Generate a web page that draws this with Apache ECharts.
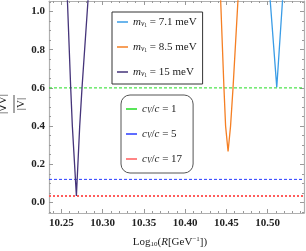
<!DOCTYPE html>
<html><head><meta charset="utf-8">
<script src="https://cdn.jsdelivr.net/npm/echarts@6/dist/echarts.min.js"></script>
<style>html,body{margin:0;padding:0;background:#fff}#c{width:306px;height:251px}</style>
</head><body><div id="c"></div>
<script>
// ---- data ----
const massLabels = ['7.1', '8.5', '15'];
const curveColors = ['#3a9ce6', '#f57f23', '#45347a'];
const xBlue   = [10.503, 10.511, 10.518];
const yBlue   = [1.06, 0.603, 1.06];
const xOrange = [10.443, 10.447, 10.449, 10.452, 10.455, 10.458, 10.464];
const yOrange = [1.06, 0.60, 0.40, 0.267, 0.40, 0.60, 1.06];
const xPurple = [10.2573, 10.2613, 10.2633, 10.2682, 10.2722, 10.275, 10.2823];
const yPurple = [1.06, 0.60, 0.40, 0.034, 0.40, 0.60, 1.06];

const cvLabels = ['1', '5', '17'];
const hLineValues = [0.6, 0.121, 0.034];
const hLineColors = ['#22dd22', '#2a3cff', '#ff5c5c'];

const xMin = 10.235, xMax = 10.544;
const yMin = -0.055, yMax = 1.055;
const xMajor = [10.25, 10.30, 10.35, 10.40, 10.45, 10.50];
const xMinor = [10.24,10.26,10.27,10.28,10.29,10.31,10.32,10.33,10.34,10.36,10.37,10.38,10.39,10.41,10.42,10.43,10.44,10.46,10.47,10.48,10.49,10.51,10.52,10.53,10.54];
const yMajor = [0.0, 0.2, 0.4, 0.6, 0.8, 1.0];
const yMinor = [-0.05,0.05,0.1,0.15,0.25,0.3,0.35,0.45,0.5,0.55,0.65,0.7,0.75,0.85,0.9,0.95,1.05];

// ---- build ----
const zip = (a, b) => a.map((v, i) => [v, b[i]]);
const curves = [[xBlue, yBlue], [xOrange, yOrange], [xPurple, yPurple]];
const serif = 'Liberation Serif, DejaVu Serif, serif';
const frame = '#b0b0b0';

const series = [];
curves.forEach((c, i) => {
  series.push({
    name: 'm' + i, type: 'line', data: zip(c[0], c[1]), symbol: 'none',
    lineStyle: { color: curveColors[i], width: 1.3 }, itemStyle: { color: curveColors[i] },
    z: 5, animation: false
  });
});
const dashes = [[3, 2], [3, 2], [2, 2]];
const widths = [1, 1, 2];
hLineValues.forEach((v, i) => {
  series.push({
    name: 'c' + i, type: 'line', data: [[xMin, v], [xMax, v]], symbol: 'none',
    lineStyle: { color: hLineColors[i], width: widths[i], type: dashes[i] }, itemStyle: { color: hLineColors[i] },
    z: 3, animation: false
  });
});

const rich = {
  i: { fontFamily: serif, fontStyle: 'italic', fontSize: 11, color: '#222' },
  s: { fontFamily: serif, fontStyle: 'italic', fontSize: 7.5, color: '#222', padding: [5, 0, 0, 0] },
  ss: { fontFamily: serif, fontSize: 5.5, color: '#222', padding: [8, 0, 0, 0] },
  t: { fontFamily: serif, fontSize: 11, color: '#222' }
};

function xAxisDef(pos, ticks, len, labels, line) {
  return {
    type: 'value', min: xMin, max: xMax, position: pos,
    axisLine: { show: line, onZero: false, lineStyle: { color: frame, width: 1.2 } },
    axisTick: { show: true, inside: true, length: len, customValues: ticks, lineStyle: { color: '#999', width: 1 } },
    axisLabel: labels ? { show: true, customValues: ticks, formatter: v => v.toFixed(2), fontFamily: serif, fontWeight: 'bold', fontSize: 11, color: '#222', margin: 5 } : { show: false },
    splitLine: { show: false }
  };
}
function yAxisDef(pos, ticks, len, labels, line) {
  return {
    type: 'value', min: yMin, max: yMax, position: pos,
    axisLine: { show: line, onZero: false, lineStyle: { color: frame, width: 1.2 } },
    axisTick: { show: true, inside: true, length: len, customValues: ticks, lineStyle: { color: '#999', width: 1 } },
    axisLabel: labels ? { show: true, customValues: ticks, formatter: v => v.toFixed(1), fontFamily: serif, fontWeight: 'bold', fontSize: 11, color: '#222', margin: 4 } : { show: false },
    splitLine: { show: false }
  };
}

const option = {
  backgroundColor: '#fff',
  animation: false,
  grid: { left: 49, right: 2, top: 1, bottom: 38 },
  xAxis: [
    xAxisDef('bottom', xMajor, 4, true, true),
    xAxisDef('bottom', xMinor, 2, false, false),
    xAxisDef('top', xMajor, 4, false, true),
    xAxisDef('top', xMinor, 2, false, false)
  ],
  yAxis: [
    yAxisDef('left', yMajor, 4, true, true),
    yAxisDef('left', yMinor, 2, false, false),
    yAxisDef('right', yMajor, 4, false, true),
    yAxisDef('right', yMinor, 2, false, false)
  ],
  legend: [
    {
      data: ['m0', 'm1', 'm2'], orient: 'vertical', left: 112, top: 12,
      padding: [3, 6, 5, 5], itemGap: 11, itemWidth: 11, itemHeight: 1.5, icon: 'rect',
      backgroundColor: '#fff', borderColor: '#333', borderWidth: 1, borderRadius: 0,
      formatter: n => '{i|m}{s|ν}{ss|1}{t| = ' + massLabels[+n[1]] + ' meV}',
      textStyle: { rich: rich, fontSize: 11, lineHeight: 14 }
    },
    {
      data: ['c0', 'c1', 'c2'], orient: 'vertical', left: 121, top: 95,
      padding: [7, 11, 7, 5], itemGap: 11, itemWidth: 11, itemHeight: 1.5, icon: 'rect',
      backgroundColor: '#fff', borderColor: '#555', borderWidth: 1, borderRadius: 9,
      formatter: n => '{i|c}{s|V}{t|/}{i|c}{t| = ' + cvLabels[+n[1]] + '}',
      textStyle: { rich: rich, fontSize: 11, lineHeight: 14 }
    }
  ],
  graphic: [
    {
      type: 'group', x: 14, y: 104, rotation: Math.PI / 2,
      children: [
        { type: 'text', x: 0, y: -5, style: { text: '|∇V|', font: '11px ' + serif, fill: '#222', align: 'center', verticalAlign: 'bottom' } },
        { type: 'line', shape: { x1: -9, y1: 0, x2: 9, y2: 0 }, style: { stroke: '#222', lineWidth: 0.8 } },
        { type: 'text', x: 0, y: 2, style: { text: '|V|', font: '11px ' + serif, fill: '#222', align: 'center', verticalAlign: 'top' } }
      ]
    },
    {
      type: 'text', x: 170, y: 242,
      style: {
        text: 'Log{sub|10}({it|R}[GeV{sup|−1}])', align: 'center', verticalAlign: 'middle',
        font: '11px ' + serif, fill: '#222',
        rich: {
          sub: { fontFamily: serif, fontSize: 7, fill: '#222', padding: [5, 0, 0, 0] },
          sup: { fontFamily: serif, fontSize: 7, fill: '#222', padding: [0, 0, 5, 0] },
          it: { fontFamily: serif, fontStyle: 'italic', fontSize: 11, fill: '#222' }
        }
      }
    }
  ],
  series: series
};
const chart = echarts.init(document.getElementById('c'), null, { renderer: 'canvas' });
chart.setOption(option);
</script></body></html>
